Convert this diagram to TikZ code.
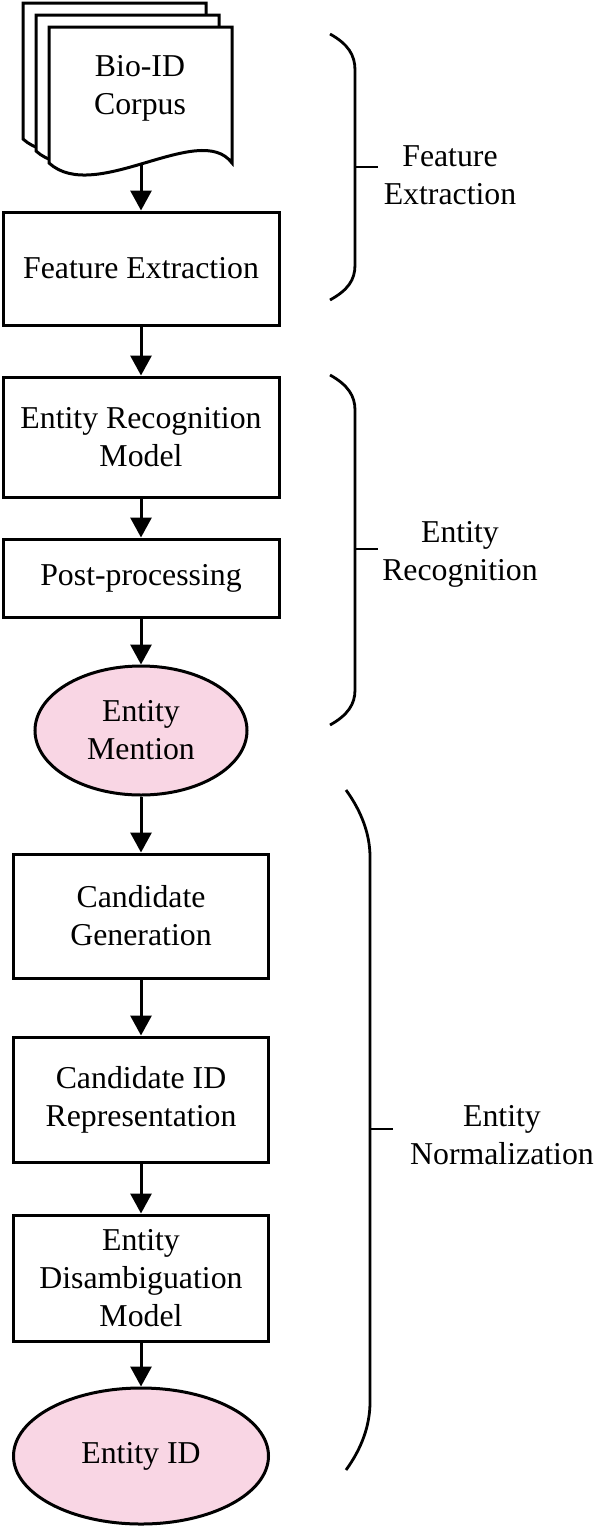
\documentclass[tikz,border=0pt]{standalone}
\usepackage{fontspec}
\setmainfont{Liberation Serif}
\usepackage{tikz}
\usetikzlibrary{arrows.meta}
\usetikzlibrary{shapes.geometric}
\definecolor{MentionPink}{RGB}{249,214,228}
\tikzset{
  stagebox/.style={draw,line width=1.5pt,rectangle,align=center,inner sep=0pt},
  outbox/.style={draw,line width=1.5pt,ellipse,fill=MentionPink,align=center,inner sep=0pt},
  flow/.style={line width=1.5pt,-{Triangle[width=10.5pt,length=10pt]}},
  brace/.style={line width=1.4pt},
  bracelabel/.style={align=center}
}
\begin{document}
\begin{tikzpicture}[x=0.5pt,y=-0.5pt,every node/.style={font=\fontsize{15.9}{19}\selectfont}]
      \useasboundingbox (0,0) rectangle (596,1527);
      % stacked documents
      \foreach \d in {2,1,0}
        \filldraw[fill=white,line width=1.5pt,shift={(-13*\d,-12*\d)}] (49,27) -- (232,27) -- (232,163) .. controls (200,120) and (95,205) .. (49,163) -- cycle;
      \node (corpus) at (140,88) [align=center] {Bio-ID\\Corpus};
      \coordinate (docbot) at (141,164);
      \node[stagebox,minimum width=138pt,minimum height=56.5pt] (fe) at (141,268.5) {Feature Extraction};
      \node[stagebox,minimum width=138pt,minimum height=60pt] (erm) at (141,437) {Entity Recognition\\Model};
      \node[stagebox,minimum width=138pt,minimum height=39pt] (pp) at (141,578) {Post-processing};
      \node[outbox,minimum width=106pt,minimum height=64.5pt] (mention) at (141,730.5) {Entity\\Mention};
      \node[stagebox,minimum width=127.5pt,minimum height=62pt] (cg) at (141,916) {Candidate\\Generation};
      \node[stagebox,minimum width=127.5pt,minimum height=62.5pt] (cir) at (141,1099.5) {Candidate ID\\Representation};
      \node[stagebox,minimum width=127.5pt,minimum height=63pt] (edm) at (141,1278) {Entity\\Disambiguation\\Model};
      \node[outbox,minimum width=127.5pt,minimum height=68pt] (eid) at (141,1456) {Entity ID};
      \draw[flow] (docbot) -- (fe);
      \draw[flow] (fe) -- (erm);
      \draw[flow] (erm) -- (pp);
      \draw[flow] (pp) -- (mention);
      \draw[flow] (mention) -- (cg);
      \draw[flow] (cg) -- (cir);
      \draw[flow] (cir) -- (edm);
      \draw[flow] (edm) -- (eid);
      % braces
      \draw[brace] (330,34) .. controls (348,44) and (355,55) .. (355,70) -- (355,265) .. controls (355,280) and (348,290) .. (330,300);
      \draw[brace] (355,167) -- (378,167);
      \node[bracelabel] (featlabel) at (450,175) {Feature\\Extraction};
      \draw[brace] (330,375) .. controls (348,385) and (355,396) .. (355,410) -- (355,690) .. controls (355,704) and (348,715) .. (330,725);
      \draw[brace] (355,549) -- (378,549);
      \node[bracelabel] (reclabel) at (460,554) {Entity\\Recognition};
      \draw[brace] (346,790) .. controls (362,812) and (370,835) .. (370,857) -- (370,1402) .. controls (370,1425) and (362,1448) .. (346,1470);
      \draw[brace] (370,1129) -- (393,1129);
      \node[bracelabel] (normlabel) at (502,1135) {Entity\\Normalization};
    \end{tikzpicture}
\end{document}
